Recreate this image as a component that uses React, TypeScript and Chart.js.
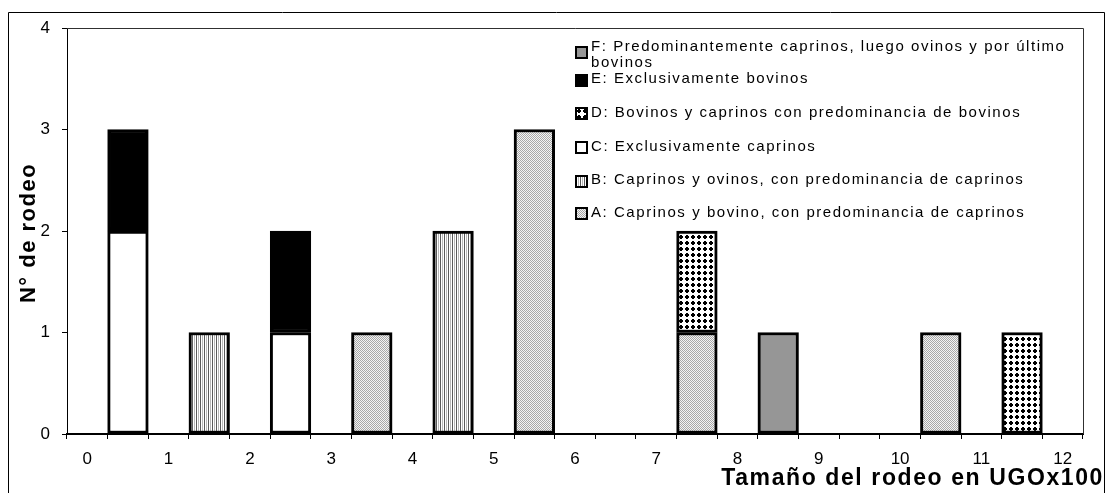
import React, { useEffect, useRef } from 'react';
import { Chart, registerables } from 'chart.js';
Chart.register(...registerables);

const _ = null;
// 25 categories: integer labels at bin edges' centres, bars sit in the odd slots
const categories = ['0', '', '1', '', '2', '', '3', '', '4', '', '5', '', '6', '', '7', '', '8', '', '9', '', '10', '', '11', '', '12'];
//                 0  1  2  3  4  5  6  7  8  9 10 11 12 13 14 15 16 17 18 19 20 21 22 23 24
const seriesA = [_, _, _, _, _, _, _, 1, _, _, _, 3, _, _, _, 1, _, _, _, _, _, 1, _, _, _];
const seriesB = [_, _, _, 1, _, _, _, _, _, 2, _, _, _, _, _, _, _, _, _, _, _, _, _, _, _];
const seriesC = [_, 2, _, _, _, 1, _, _, _, _, _, _, _, _, _, _, _, _, _, _, _, _, _, _, _];
const seriesD = [_, _, _, _, _, _, _, _, _, _, _, _, _, _, _, 1, _, _, _, _, _, _, _, 1, _];
const seriesE = [_, 1, _, _, _, 1, _, _, _, _, _, _, _, _, _, _, _, _, _, _, _, _, _, _, _];
const seriesF = [_, _, _, _, _, _, _, _, _, _, _, _, _, _, _, _, _, 1, _, _, _, _, _, _, _];

const seriesLabels = [
  'A: Caprinos y bovino, con predominancia de caprinos',
  'B: Caprinos y ovinos, con predominancia de caprinos',
  'C: Exclusivamente caprinos',
  'D: Bovinos y caprinos con predominancia de bovinos',
  'E: Exclusivamente bovinos',
  'F: Predominantemente caprinos, luego ovinos y por último bovinos',
];
// legend order top to bottom (dataset index) and wrapped lines
const legendOrder = [5, 4, 3, 2, 1, 0];
const legendLines = [
  ['F: Predominantemente caprinos, luego ovinos y por último', 'bovinos'],
  ['E: Exclusivamente bovinos'],
  ['D: Bovinos y caprinos con predominancia de bovinos'],
  ['C: Exclusivamente caprinos'],
  ['B: Caprinos y ovinos, con predominancia de caprinos'],
  ['A: Caprinos y bovino, con predominancia de caprinos'],
];
const yTicks = [0, 1, 2, 3, 4];
const yTitle = 'N° de rodeo';
const xTitle = 'Tamaño del rodeo en UGOx100';

const FONT = '"Liberation Sans", Arial, sans-serif';

function makePattern(w: number, h: number, draw: (c: CanvasRenderingContext2D) => void) {
  const cv = document.createElement('canvas');
  cv.width = w;
  cv.height = h;
  const c = cv.getContext('2d')!;
  draw(c);
  return c.createPattern(cv, 'repeat')!;
}

export default function App() {
  const ref = useRef<HTMLCanvasElement>(null);

  useEffect(() => {
    const patA = makePattern(2, 2, (c) => {
      c.fillStyle = '#f4f4f4';
      c.fillRect(0, 0, 2, 2);
      c.fillStyle = '#a8a8a8';
      c.fillRect(0, 0, 1, 1);
      c.fillRect(1, 1, 1, 1);
    });
    const patB = makePattern(4, 1, (c) => {
      c.fillStyle = '#ffffff';
      c.fillRect(0, 0, 4, 1);
      c.fillStyle = '#5a5a5a';
      c.fillRect(0, 0, 1, 1);
      c.fillStyle = '#b8b8b8';
      c.fillRect(2, 0, 1, 1);
    });
    const patD = makePattern(6, 6, (c) => {
      c.fillStyle = '#ffffff';
      c.fillRect(0, 0, 6, 6);
      c.fillStyle = '#000000';
      c.fillRect(2, 1, 2, 4);
      c.fillRect(1, 2, 4, 2);
    });
    const fills: any[] = [patA, patB, '#ffffff', patD, '#000000', '#969696'];
    const values = [seriesA, seriesB, seriesC, seriesD, seriesE, seriesF];

    const deco = {
      id: 'deco',
      afterDraw(chart: any) {
        const ctx: CanvasRenderingContext2D = chart.ctx;
        const a = chart.chartArea;
        ctx.save();
        // outer frame
        ctx.strokeStyle = '#000';
        ctx.lineWidth = 1;
        ctx.beginPath();
        ctx.moveTo(8.5, 500);
        ctx.lineTo(8.5, 12.5);
        ctx.lineTo(1104.5, 12.5);
        ctx.lineTo(1104.5, 500);
        ctx.stroke();
        // plot area top/right border
        ctx.strokeStyle = '#303030';
        ctx.beginPath();
        ctx.moveTo(a.left, Math.round(a.top) + 0.5);
        ctx.lineTo(Math.round(a.right) + 0.5, Math.round(a.top) + 0.5);
        ctx.lineTo(Math.round(a.right) + 0.5, a.bottom);
        ctx.stroke();

        // y title
        ctx.fillStyle = '#000';
        (ctx as any).letterSpacing = '1.5px';
        ctx.font = `bold 22px ${FONT}`;
        ctx.save();
        ctx.translate(35, 233);
        ctx.rotate(-Math.PI / 2);
        ctx.textAlign = 'center';
        ctx.textBaseline = 'alphabetic';
        ctx.fillText(yTitle, 0, 0);
        ctx.restore();

        // x title
        ctx.font = `bold 23px ${FONT}`;
        (ctx as any).letterSpacing = '1.6px';
        ctx.textAlign = 'right';
        ctx.textBaseline = 'alphabetic';
        ctx.fillText(xTitle, 1104, 485);

        // legend
        const boxY = [47, 75, 108, 142, 176, 208];
        const textY = [[47, 63], [79], [113], [147], [180], [213]];
        ctx.font = `15px ${FONT}`;
        (ctx as any).letterSpacing = '1.55px';
        ctx.textAlign = 'left';
        ctx.textBaseline = 'middle';
        legendOrder.forEach((di, i) => {
          const ds = chart.data.datasets[di];
          ctx.fillStyle = ds.backgroundColor;
          ctx.fillRect(576, boxY[i], 11, 11);
          ctx.strokeStyle = '#000';
          ctx.lineWidth = 2;
          ctx.strokeRect(576, boxY[i], 11, 11);
          ctx.fillStyle = '#000';
          legendLines[i].forEach((ln, k) => ctx.fillText(ln, 591, textY[i][k]));
        });
        ctx.restore();
      },
    };

    const chart = new Chart(ref.current!, {
      type: 'bar',
      data: {
        labels: categories,
        datasets: values.map((v, i) => ({
          label: seriesLabels[i],
          data: v as any,
          backgroundColor: fills[i],
          borderColor: '#000',
          borderWidth: 3,
          borderSkipped: false,
          barPercentage: 1,
          categoryPercentage: 1,
        })),
      },
      options: {
        animation: false,
        responsive: false,
        devicePixelRatio: 1,
        layout: { padding: { top: 28, right: 24, left: 0, bottom: 0 } },
        plugins: { legend: { display: false }, tooltip: { enabled: false } },
        scales: {
          x: {
            stacked: true,
            offset: true,
            afterFit: (s: any) => { s.height = 59; },
            grid: { offset: true, drawOnChartArea: false, drawTicks: true, tickLength: 5, color: '#000' },
            border: { display: true, color: '#000', width: 2 },
            ticks: {
              autoSkip: false,
              maxRotation: 0,
              padding: 10,
              color: '#000',
              font: { family: FONT, size: 17 },
            },
          },
          y: {
            stacked: true,
            min: yTicks[0],
            max: yTicks[yTicks.length - 1],
            afterFit: (s: any) => { s.width = 67; },
            grid: { drawOnChartArea: false, drawTicks: true, tickLength: 5, color: '#000' },
            border: { display: true, color: '#000', width: 1 },
            ticks: {
              stepSize: 1,
              padding: 12,
              color: '#000',
              font: { family: FONT, size: 17 },
            },
          },
        },
      },
      plugins: [deco],
    });
    return () => chart.destroy();
  }, []);

  return (
    <div style={{ position: 'fixed', left: 0, top: 0, width: 1107, height: 493, background: '#fff' }}>
      <canvas ref={ref} width={1107} height={493} style={{ display: 'block' }} />
    </div>
  );
}
